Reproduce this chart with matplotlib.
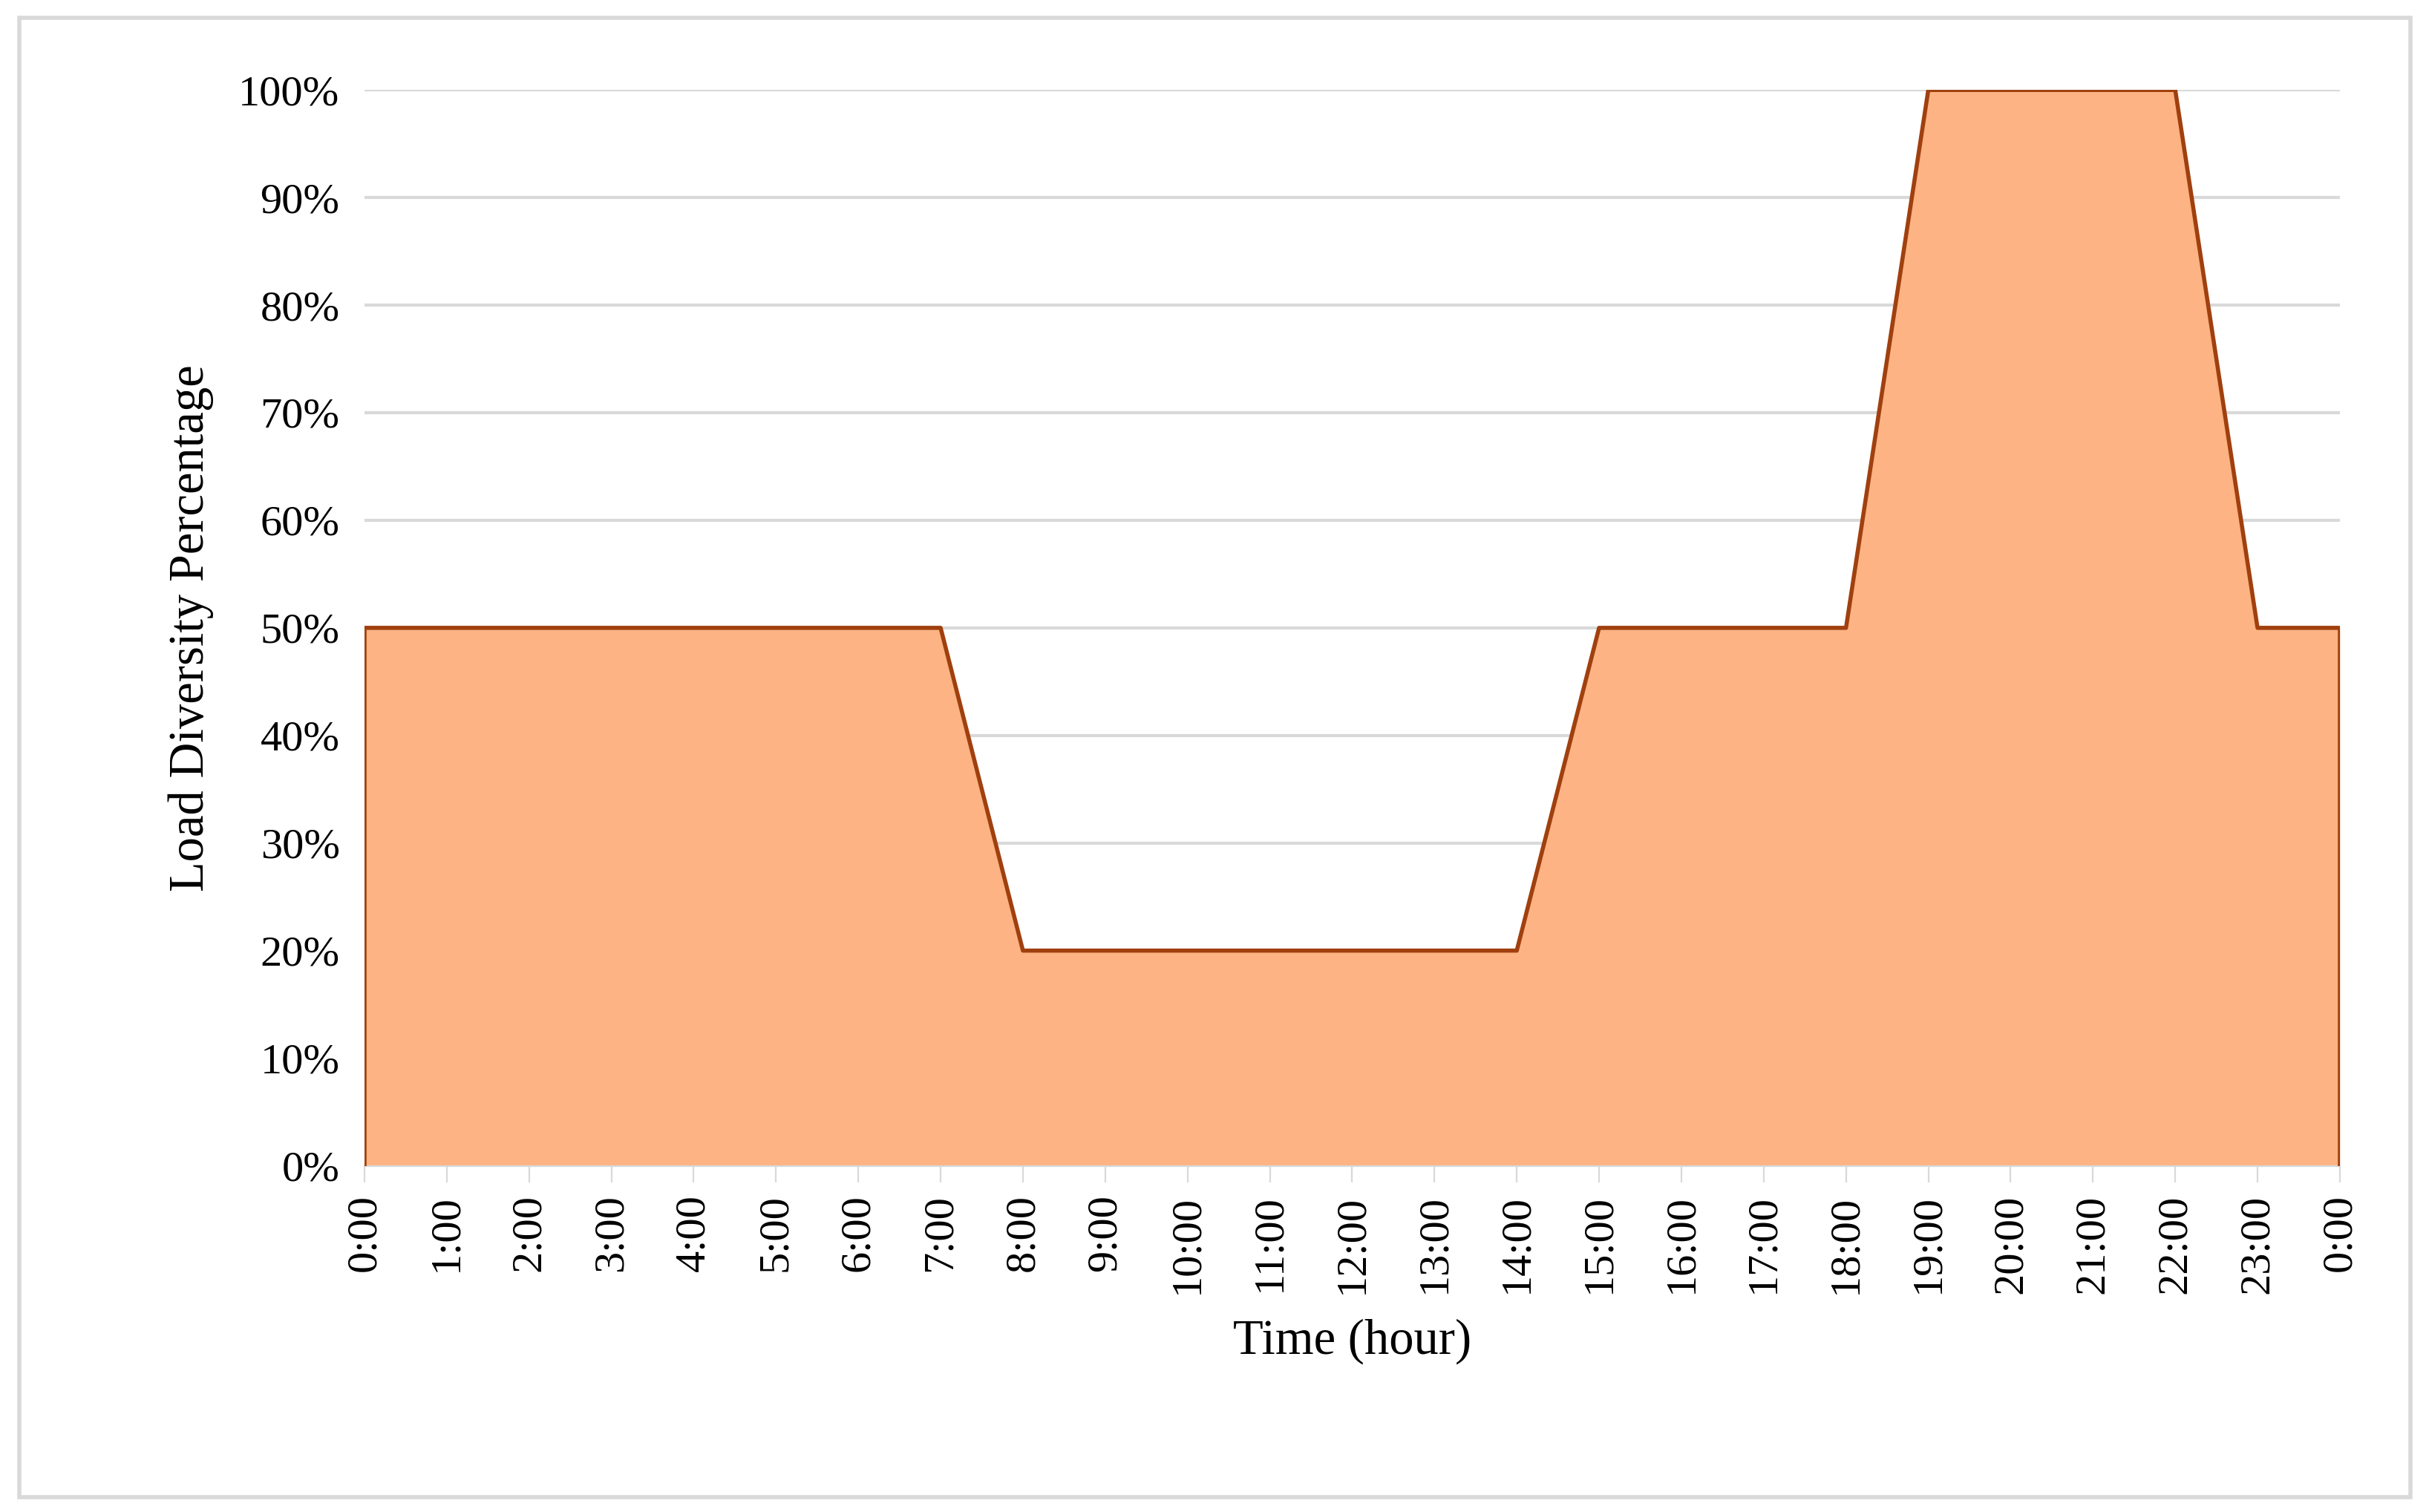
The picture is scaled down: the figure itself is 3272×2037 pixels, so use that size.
import matplotlib
matplotlib.use("Agg")
import matplotlib.pyplot as plt
from matplotlib.patches import Rectangle

hours = list(range(25))
tick_labels = [f"{h % 24}:00" for h in hours]
load = [50,50,50,50,50,50,50,50,20,20,20,20,20,20,20,50,50,50,50,100,100,100,100,50,50]

plt.rcParams['font.family'] = ['Liberation Serif', 'DejaVu Serif']
fig = plt.figure(figsize=(16.365, 10.185), dpi=200)
ax = fig.add_axes([0.150, 0.229, 0.813, 0.7115])
ax.fill_between(hours, load, 0, color='#FDB383', linewidth=0, zorder=2)
ax.plot(hours, load, color='#A0400F', linewidth=2, zorder=3)
ax.vlines([0, 24], 0, [load[0], load[-1]], color='#A0400F', linewidth=2, zorder=3)
ax.set_xlim(0, 24)
ax.set_ylim(0, 100)
ax.set_yticks(range(0, 101, 10))
ax.set_yticklabels([f"{v}%" for v in range(0, 101, 10)], fontsize=21)
ax.set_xticks(hours)
ax.set_xticklabels(tick_labels, rotation=90, fontsize=21)
ax.grid(axis='y', color='#D9D9D9', linewidth=1.5, zorder=0)
for s in ['top', 'right', 'left']:
    ax.spines[s].set_visible(False)
ax.spines['bottom'].set_color('#D9D9D9')
ax.tick_params(axis='y', length=0, pad=12)
ax.tick_params(axis='x', length=8, color='#D9D9D9', pad=6)
ax.set_xlabel('Time (hour)', fontsize=24, labelpad=12)
ax.set_ylabel('Load Diversity Percentage', fontsize=24, labelpad=12)
fig.patches.append(Rectangle((0.008, 0.01), 0.984, 0.978, transform=fig.transFigure,
                             fill=False, edgecolor='#D9D9D9', linewidth=2))
fig.savefig('out.png', dpi=200)
